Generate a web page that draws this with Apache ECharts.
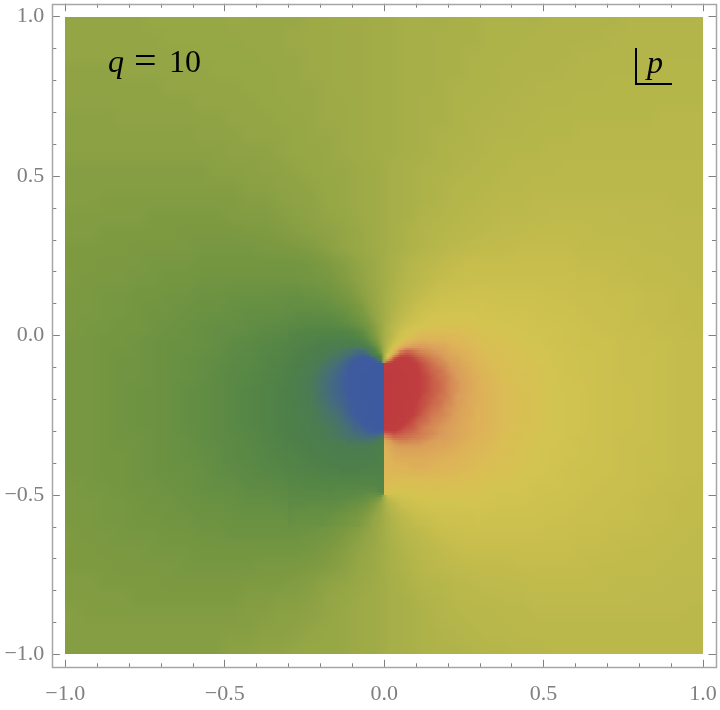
<!DOCTYPE html>
<html><head><meta charset="utf-8">
<style>html,body{margin:0;padding:0;background:#fff}#c{width:720px;height:710px}</style>
<script src="https://cdn.jsdelivr.net/npm/echarts@6/dist/echarts.min.js"></script>
</head><body><div id="c"></div>
<script>
var tickLabelsValues=[-1,-0.5,0,0.5,1];
var colorScale=['#3D5AA0','#3E5B9E','#456E78','#4B7C52','#4D7F49','#548546','#5E8B44','#6D9341','#7E9A41','#93A545','#A3AD47','#B3B54A','#BFBA4C','#CBC04E','#D3C450','#DABE54','#DEB258','#DA9E5A','#CE6F4E','#BF3E3F','#BE3A3E'];
// coarse field: y from .975 down to -.975, x from -.975 to .975 (step .05)
var outerField=[
[45,45,45,45,45,46,46,46,46,46,47,47,47,47,47,48,48,49,49,50,50,51,51,51,52,52,53,53,53,53,54,54,54,54,54,55,55,55,55,55],
[45,45,45,45,45,45,46,46,46,46,46,47,47,47,48,48,48,49,49,50,50,51,51,52,52,52,53,53,53,54,54,54,54,54,55,55,55,55,55,55],
[45,45,45,45,45,45,45,45,46,46,46,46,47,47,47,48,48,49,49,50,50,51,51,52,52,53,53,53,54,54,54,54,55,55,55,55,55,55,55,55],
[44,44,44,45,45,45,45,45,45,46,46,46,46,47,47,48,48,49,49,50,50,51,51,52,52,53,53,54,54,54,54,55,55,55,55,55,55,56,56,56],
[44,44,44,44,44,44,45,45,45,45,45,46,46,47,47,47,48,49,49,50,50,51,51,52,53,53,53,54,54,55,55,55,55,55,56,56,56,56,56,56],
[44,44,44,44,44,44,44,44,45,45,45,45,46,46,47,47,48,48,49,50,50,51,52,52,53,53,54,54,55,55,55,55,56,56,56,56,56,56,56,56],
[43,43,43,44,44,44,44,44,44,44,45,45,45,46,46,47,48,48,49,50,50,51,52,52,53,54,54,55,55,55,56,56,56,56,56,56,56,57,57,57],
[43,43,43,43,43,43,43,43,44,44,44,45,45,45,46,47,47,48,49,50,50,51,52,53,53,54,55,55,55,56,56,56,57,57,57,57,57,57,57,57],
[43,43,43,43,43,43,43,43,43,43,44,44,44,45,46,46,47,48,49,50,50,51,52,53,54,54,55,56,56,56,57,57,57,57,57,57,57,57,57,57],
[42,42,42,42,42,42,42,42,42,43,43,43,44,44,45,46,47,47,48,49,51,52,53,53,54,55,56,56,57,57,57,58,58,58,58,58,58,58,58,58],
[42,42,42,42,42,42,42,42,42,42,42,43,43,44,44,45,46,47,48,49,51,52,53,54,55,56,56,57,57,58,58,58,58,58,58,58,58,58,58,58],
[42,42,41,41,41,41,41,41,41,41,41,42,42,43,44,44,46,47,48,49,51,52,53,54,56,56,57,58,58,59,59,59,59,59,59,59,59,59,58,58],
[41,41,41,41,41,40,40,40,40,40,41,41,41,42,43,44,45,46,48,49,51,52,54,55,56,57,58,59,59,59,60,60,60,60,60,59,59,59,59,59],
[41,41,40,40,40,40,40,39,39,39,39,40,40,41,42,43,44,45,47,49,51,53,55,56,57,58,59,60,60,61,61,61,61,60,60,60,60,60,59,59],
[40,40,40,40,39,39,39,39,38,38,38,38,39,39,40,41,43,45,47,49,51,53,55,57,59,60,61,61,62,62,62,62,61,61,61,61,60,60,60,60],
[40,40,39,39,39,38,38,38,37,37,37,37,37,37,37,38,40,42,45,48,52,55,58,60,62,63,63,63,63,63,63,63,62,62,62,61,61,61,60,60],
[40,39,39,39,38,38,37,37,36,36,36,36,36,36,36,37,38,41,44,48,52,56,59,62,63,64,64,64,64,64,64,64,63,63,62,62,61,61,61,60],
[39,39,38,38,37,37,36,36,35,35,34,34,34,33,33,34,35,38,42,47,53,58,62,65,66,67,67,66,66,66,65,65,64,64,63,63,62,62,61,61],
[39,39,38,38,37,36,36,35,34,34,33,32,32,32,30,31,31,34,39,47,53,61,66,69,69,70,68,68,68,67,66,66,65,64,64,63,62,62,61,61],
[39,38,38,37,37,36,35,34,33,32,32,31,30,29,29,29,30,32,37,45,55,63,68,70,71,71,71,70,69,68,68,67,66,65,64,63,63,62,62,61],
[38,38,37,37,36,35,34,34,33,32,30,29,27,26,24,22,22,23,28,40,60,72,77,78,78,76,74,73,71,70,68,67,66,66,65,64,63,63,62,62],
[38,38,37,36,36,35,34,33,32,31,29,28,26,24,20,17,15,14,15,30,70,85,86,85,83,80,76,74,72,71,69,68,67,66,65,64,64,63,62,62],
[38,38,37,36,36,35,34,33,32,30,28,27,25,22,19,16,12,8,3,1,99,97,92,88,84,81,78,75,73,72,70,68,67,66,65,64,64,63,62,62],
[38,38,37,36,35,35,34,32,31,30,28,26,24,21,18,15,11,7,2,1,99,98,93,89,85,82,79,76,74,72,70,69,68,66,65,65,64,63,62,62],
[38,38,37,36,35,35,34,32,31,30,28,26,24,21,18,14,10,6,2,1,99,98,94,90,86,82,79,76,74,72,70,69,68,66,65,65,64,63,62,62],
[38,38,37,36,35,35,34,32,31,30,28,26,24,21,18,15,11,7,3,1,99,97,93,89,85,82,79,76,74,72,70,69,68,66,65,65,64,63,62,62],
[38,38,37,36,36,35,34,33,31,30,29,27,25,22,19,16,13,11,9,10,90,91,89,87,84,81,78,75,73,71,70,69,67,66,65,64,64,63,62,62],
[38,38,37,37,36,35,34,33,32,31,29,28,26,24,21,18,16,15,16,20,80,84,85,84,82,79,76,74,72,71,69,68,67,66,65,64,63,63,62,62],
[38,38,37,37,36,35,34,34,33,31,30,29,27,26,24,23,22,22,22,22,78,78,78,78,77,76,74,73,71,70,69,67,66,66,65,64,63,63,62,62],
[39,38,38,37,36,36,35,34,33,32,32,30,30,29,27,26,26,26,27,26,74,73,74,74,74,73,71,70,70,68,68,67,66,65,64,64,63,62,62,61],
[39,39,38,38,37,36,36,35,34,34,33,32,32,31,31,31,32,34,38,45,55,62,66,68,69,69,69,68,68,67,66,66,65,64,64,63,62,62,61,61],
[39,39,38,38,37,37,36,36,35,35,34,34,34,34,33,34,35,37,40,46,54,60,63,65,66,67,66,66,66,66,65,65,64,64,63,63,62,62,61,61],
[40,39,39,38,38,38,37,37,36,36,35,35,35,35,35,36,37,40,43,47,53,57,60,63,64,65,65,65,65,65,64,64,63,63,62,62,62,61,61,60],
[40,40,39,39,39,38,38,38,37,37,37,37,37,37,37,38,40,42,45,48,52,55,58,60,62,63,63,63,63,63,63,63,62,62,62,61,61,61,60,60],
[40,40,40,39,39,39,39,38,38,38,38,38,39,39,39,40,41,43,46,48,52,54,57,59,60,61,61,61,62,62,62,62,62,61,61,61,61,60,60,60],
[41,41,40,40,40,40,39,39,39,39,39,40,40,40,41,42,44,45,47,49,51,53,55,56,58,59,60,60,60,61,61,61,61,61,60,60,60,60,59,59],
[41,41,41,41,40,40,40,40,40,40,40,41,41,42,42,43,45,46,48,49,51,52,54,55,57,58,58,59,59,60,60,60,60,60,60,60,59,59,59,59],
[42,41,41,41,41,41,41,41,41,41,41,42,42,43,43,44,45,47,48,49,51,52,53,55,56,57,57,58,58,59,59,59,59,59,59,59,59,59,59,58],
[42,42,42,42,42,42,42,42,42,42,42,42,43,43,44,45,46,47,48,49,51,52,53,54,55,56,57,57,58,58,58,58,58,58,58,58,58,58,58,58],
[42,42,42,42,42,42,42,42,42,42,43,43,44,44,45,46,46,47,48,49,51,52,53,54,54,55,56,56,57,57,58,58,58,58,58,58,58,58,58,58]
];
// fine field near the cut: y from .09 down to -.59, x from -.29 to .29 (step .02)
var innerField=[
[32,32,32,32,32,32,33,34,35,36,38,40,43,46,48,52,54,57,60,62,64,65,66,67,68,68,68,68,68,68],
[31,30,30,30,31,31,31,32,33,35,37,39,42,45,48,52,55,58,61,63,65,67,68,69,69,69,70,70,70,69],
[30,29,29,29,29,29,29,30,31,33,35,37,40,44,48,52,56,60,63,65,67,69,70,71,71,71,71,71,71,70],
[28,28,27,27,27,27,27,28,29,30,32,35,38,42,47,53,58,62,65,68,70,71,72,73,73,73,73,73,72,72],
[26,25,25,24,24,24,24,24,24,25,27,30,35,41,47,53,59,65,70,73,75,76,76,76,76,76,76,75,75,74],
[25,24,23,23,22,21,21,21,21,21,23,26,31,38,46,54,62,69,74,77,79,79,79,79,79,78,77,77,76,75],
[24,23,22,21,20,18,18,17,16,16,17,19,24,33,44,56,67,76,81,83,84,84,83,82,82,80,79,78,77,76],
[23,21,20,19,18,16,15,14,13,12,10,9,12,22,40,60,78,88,91,90,88,87,86,85,84,82,81,80,79,77],
[22,20,19,17,16,15,13,12,10,8,6,4,4,8,20,80,92,96,96,94,92,90,88,87,85,84,83,81,80,78],
[21,19,18,16,15,13,12,10,8,6,4,3,3,2,3,97,98,97,97,96,94,92,90,88,87,85,84,82,81,79],
[20,18,17,15,14,12,10,9,7,5,4,3,2,1,1,99,99,98,97,96,95,93,91,90,88,86,85,83,82,80],
[19,18,16,15,13,11,10,8,6,5,3,2,1,1,0,100,99,99,98,97,95,94,92,90,89,87,85,84,82,81],
[19,17,16,14,13,11,9,8,6,5,3,2,1,1,0,100,99,99,98,97,95,94,92,91,89,87,86,84,83,81],
[19,17,16,14,13,11,9,8,6,5,3,2,1,1,0,100,99,99,98,97,95,94,92,91,89,87,86,84,83,81],
[19,18,16,15,13,11,10,8,7,5,4,2,1,1,0,100,99,99,98,96,95,93,92,90,89,87,85,84,82,81],
[19,18,16,15,13,12,10,9,7,6,4,3,2,1,0,100,99,98,97,96,94,93,91,90,88,87,85,84,82,81],
[20,18,17,15,14,13,11,10,8,6,5,3,2,1,0,100,99,98,97,95,94,92,90,89,87,86,85,83,82,80],
[20,18,17,16,14,13,12,11,9,7,5,4,2,1,0,100,99,98,96,95,93,91,89,88,87,86,84,83,82,80],
[20,19,18,16,15,14,13,12,10,9,7,5,3,2,0,100,98,97,95,93,91,90,88,87,86,85,84,82,81,80],
[20,19,18,17,16,15,14,13,12,10,8,7,5,3,1,99,97,95,93,92,90,88,87,86,85,84,83,82,81,80],
[20,19,18,17,16,15,14,13,12,11,10,9,8,7,9,91,93,92,91,90,89,88,87,86,85,84,83,82,81,80],
[21,20,19,18,17,16,16,15,14,13,13,12,12,13,16,84,87,88,88,87,87,86,85,84,84,83,82,81,80,79],
[22,21,20,19,18,17,17,16,16,15,15,15,15,16,19,81,84,85,85,85,85,84,84,83,83,82,81,80,79,78],
[23,22,21,20,19,19,18,18,17,17,17,17,17,18,20,80,82,83,83,83,83,83,82,82,81,81,80,79,78,77],
[24,23,22,21,21,20,20,19,19,19,19,19,19,19,21,79,81,81,81,81,81,81,81,80,80,79,79,78,77,76],
[24,23,22,22,21,21,20,20,19,19,19,20,20,21,21,79,79,80,80,81,81,81,80,80,79,79,78,78,77,76],
[25,24,24,23,23,22,22,22,21,21,21,22,22,22,22,78,78,78,78,79,79,79,78,78,78,77,77,76,76,75],
[26,26,25,25,25,24,24,24,24,24,24,24,24,24,23,77,76,76,76,76,76,76,76,76,76,75,75,75,74,74],
[27,27,26,26,26,26,25,26,26,26,26,26,26,26,24,76,74,74,74,74,74,74,74,75,74,74,74,74,73,73],
[28,28,28,28,28,28,27,28,28,28,29,29,30,30,27,73,70,70,71,71,72,72,72,73,72,72,72,72,72,72],
[29,29,29,29,29,29,29,29,30,30,31,32,34,36,41,59,64,66,68,69,70,70,71,71,71,71,71,71,71,71],
[30,30,30,31,31,31,31,31,32,33,34,35,37,41,46,54,59,63,65,66,67,68,69,69,69,69,69,70,70,70],
[31,32,32,32,32,32,32,33,34,35,36,38,40,43,47,53,57,60,62,64,65,66,67,68,68,68,68,68,68,69],
[32,33,33,33,33,33,34,35,36,37,38,40,42,45,48,52,55,58,60,62,63,64,65,66,67,67,67,67,67,68],
[33,34,34,34,34,34,35,36,37,38,39,41,43,46,48,52,54,57,59,61,62,63,64,65,66,66,66,66,66,67]
];
var cutTop=-0.088, cutBottom=-0.5;
function cells(field,x0,y0,step){
  var out=[];
  field.forEach(function(row,j){row.forEach(function(v,i){
    out.push([x0+i*step,y0-j*step,v,i,j]);
  });});
  return out;
}
function colorOf(v){return echarts.color.lerp(Math.max(0,Math.min(100,v))/100,colorScale);}
// display shading only: blends a typed cell with its typed neighbours, never across the cut
function shade(field,i,j,fx,fy,cut){
  var n=field[0].length, half=n/2, lo=cut&&i>=half?half:0, hi=cut&&i<half?half-1:n-1, rows=field.length;
  var u=i+fx, w=j+fy;
  var i0=Math.max(lo,Math.min(hi-1,Math.floor(u))), j0=Math.max(0,Math.min(rows-2,Math.floor(w)));
  var a=u-i0, b=w-j0;
  var top=field[j0][i0]*(1-a)+field[j0][i0+1]*a, bot=field[j0+1][i0]*(1-a)+field[j0+1][i0+1]*a;
  return top*(1-b)+bot*b;
}
function cellSeries(field,x0,y0,step,strips,covered){
  return {type:'custom',coordinateSystem:'cartesian2d',data:cells(field,x0,y0,step),silent:true,clip:true,
    encode:{x:0,y:1},
    renderItem:function(params,api){
      var x=api.value(0),y=api.value(1),i=api.value(3),j=api.value(4);
      if(covered&&covered(x,y))return;
      var a=api.coord([x-step/2,y+step/2]),b=api.coord([x+step/2,y-step/2]);
      var l=Math.round(a[0]),r=Math.round(b[0]),kids=[];
      for(var k=0;k<strips;k++){
        var t=Math.round(a[1]+(b[1]-a[1])*k/strips),d=Math.round(a[1]+(b[1]-a[1])*(k+1)/strips);
        if(d<=t)continue;
        var fy=(k+0.5)/strips-0.5, yy=y-fy*step, cut=yy<cutTop&&yy>cutBottom;
        var g=new echarts.graphic.LinearGradient(0,0,1,0,[
          {offset:0,color:colorOf(shade(field,i,j,-0.5,fy,cut))},
          {offset:0.5,color:colorOf(shade(field,i,j,0,fy,cut))},
          {offset:1,color:colorOf(shade(field,i,j,0.5,fy,cut))}]);
        kids.push({type:'rect',shape:{x:l,y:t,width:r-l,height:d-t},style:{fill:g}});
      }
      return {type:'group',children:kids};
    }};
}
var gray='#808080';
function fmt(v){return (v<0?'\u2212':'')+Math.abs(v).toFixed(1);}
function axis(type,pos,labels){
  return {type:'value',position:pos,min:tickLabelsValues[0],max:tickLabelsValues[4],interval:0.5,offset:13,
    axisLine:{show:false,onZero:false},splitLine:{show:false},
    axisTick:{show:true,inside:true,length:7.5,lineStyle:{color:gray,width:1}},
    minorTick:{show:true,splitNumber:5,length:4,lineStyle:{color:gray,width:1}},
    axisLabel:{show:labels,margin:type==='x'?16:8,formatter:fmt,color:gray,fontFamily:'Liberation Serif',fontSize:22,padding:type==='x'?0:[6,0,0,0]},
    z:5};
}
var chart=echarts.init(document.getElementById('c'),null,{renderer:'canvas'});
function inInner(x,y){return Math.abs(x)<0.28&&y<0.08&&y>-0.58;}
chart.setOption({
  animation:false,
  grid:{left:65.3,top:16.7,width:637.7,height:637.6},
  xAxis:[axis('x','bottom',true),axis('x','top',false)],
  yAxis:[axis('y','left',true),axis('y','right',false)],
  series:[cellSeries(outerField,-0.975,0.975,0.05,8,inInner),cellSeries(innerField,-0.29,0.09,0.02,3,null)],
  graphic:[
    {type:'rect',silent:true,z:10,shape:{x:52.5,y:4.5,width:664,height:663},style:{fill:'none',stroke:'#A6A6A6',lineWidth:1.5}},
    {type:'text',silent:true,z:10,x:108,y:48,style:{text:'q',fill:'#000',font:'italic 32px "Liberation Serif"'}},
    {type:'text',silent:true,z:10,x:134,y:43,style:{text:'=',fill:'#000',font:'40px "Liberation Serif"'}},
    {type:'text',silent:true,z:10,x:169,y:48,style:{text:'10',fill:'#000',font:'32px "Liberation Serif"'}},
    {type:'polyline',silent:true,z:10,shape:{points:[[636,48],[636,84],[672,84]]},style:{stroke:'#000',lineWidth:2,fill:'none'}},
    {type:'text',silent:true,z:10,x:647,y:49,style:{text:'p',fill:'#000',font:'italic 32px "Liberation Serif"'}}
  ]
});
</script></body></html>
